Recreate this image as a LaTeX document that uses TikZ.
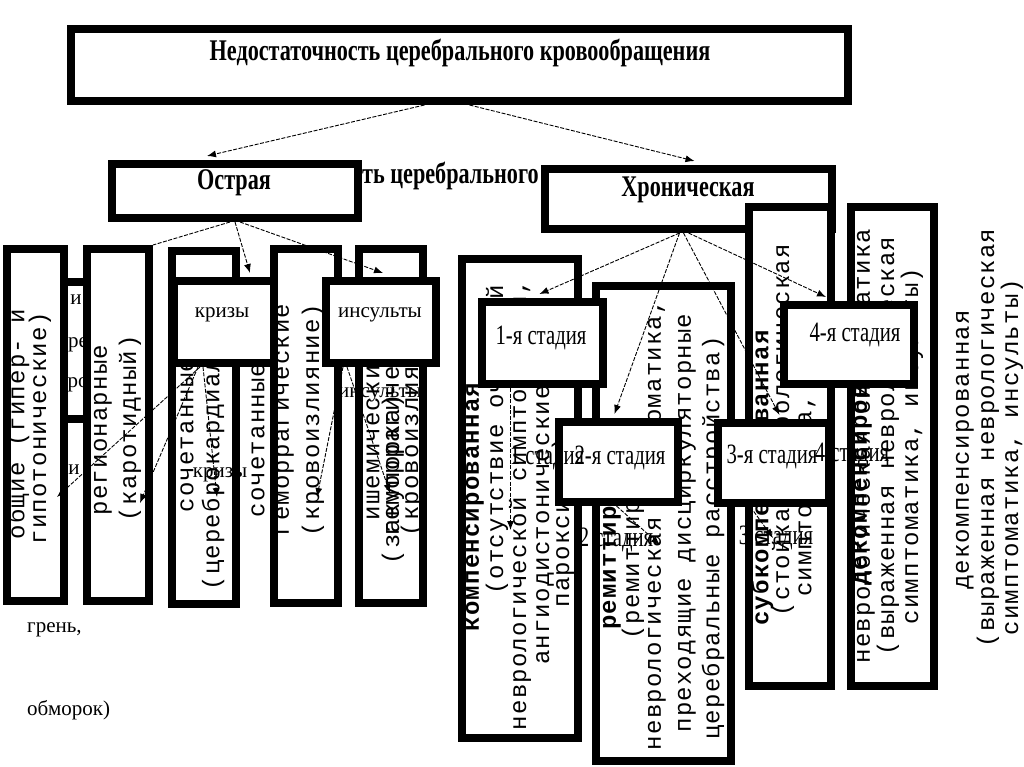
\documentclass[tikz,border=0pt]{standalone}
\usepackage{fontspec}
\setmainfont{Liberation Serif}
\newfontfamily\hfont[FakeStretch=0.74]{Liberation Serif}
\newfontfamily\vfont[LetterSpace=5]{Liberation Mono}
\usetikzlibrary{arrows.meta,calc}
\begin{document}
\begin{tikzpicture}[x=1pt,y=-1pt,
  box/.style={draw, line width=8pt, fill=white, inner sep=0pt},
  head/.style={font=\hfont\bfseries\fontsize{30}{32}\selectfont, inner sep=0pt},
  stage/.style={font=\hfont\fontsize{28}{30}\selectfont, inner sep=0pt},
  small/.style={font=\fontsize{21}{24}\selectfont, inner sep=0pt},
  vt/.style={rotate=90, font=\vfont\fontsize{24}{26}\selectfont, inner sep=0pt},
  vtb/.style={rotate=90, font=\vfont\bfseries\fontsize{24}{26}\selectfont, inner sep=0pt},
  conn/.style={line width=0.9pt, dash pattern=on 4pt off 1.5pt},
  arr/.style={conn, -{Latex[length=9pt,width=7pt]}},
]
\useasboundingbox (0,0) rectangle (1024,767);

% hidden box behind the left columns
\node[box, minimum width=62pt, minimum height=137pt] (hid) at (65,350.5) {};
\node[small] (h1) at (76,300) {и};
\node[small] (h2) at (78,345) {ре};
\node[small] (h3) at (78,385) {ро};
\node[small] (h4) at (74,470) {и};

% left columns
\node[box, minimum width=57pt, minimum height=352pt] (A) at (35.5,425) {};
\node[vt] (A1) at (18,424) {общие (гипер- и};
\node[vt] (A2) at (40,428) {гипотонические)};
\node[box, minimum width=62pt, minimum height=352pt] (B) at (118,425) {};
\node[vt] (B1) at (103,430) {регионарные};
\node[vt] (B2) at (130,428) {(каротидный)};
\node[box, minimum width=64pt, minimum height=353pt] (C) at (204,427.5) {};
\node[vt] (C1) at (187,435) {сочетанные};
\node[vt] (C2) at (213,435) {(цереброкардиальные)};
\node[vt] (CD) at (258,440) {сочетанные};
\node[box, minimum width=64pt, minimum height=354pt] (D) at (306,426) {};
\node[vt] (D1) at (285,420) {геморрагические};
\node[vt] (D2) at (313,420) {(кровоизлияние)};
\node[box, minimum width=64pt, minimum height=354pt] (E) at (391,426) {};
\node[vt] (E1) at (373,435) {ишемические};
\node[vt] (E2) at (393,479) {(закупорка)};
\node[vt] (E3) at (395,420) {геморрагические};
\node[vt] (E4) at (412,420) {(кровоизлияние)};
\node[box, minimum width=100pt, minimum height=82pt] (krizy) at (224,322) {};
\node[small] (krizyT) at (222,315) {кризы};
\node[box, minimum width=110pt, minimum height=82pt] (insult) at (381,322) {};
\node[small] (insultT) at (380,315) {инсульты};
\node[small] (kf) at (220,475) {кризы};
\node[small] (inf) at (380,395) {инсульты};
\node[small, anchor=west] (g1) at (27,630) {грень,};
\node[small, anchor=west] (g2) at (27,710) {обморок)};

% top
\node[box, minimum width=777pt, minimum height=72pt] (title) at (459.5,65) {};
\node[head] (titleT) at (460,53) {Недостаточность церебрального кровообращения};
\node[head, anchor=west] (frag) at (362,176) {ть церебрального к};
\node[box, minimum width=246pt, minimum height=54pt] (ostr) at (235,191) {};
\node[head] (ostrT) at (234,183) {Острая};
\node[box, minimum width=287pt, minimum height=60pt] (chron) at (688.5,199) {};
\node[head] (chronT) at (688,190) {Хроническая};

% right columns
\node[box, minimum width=116pt, minimum height=479pt] (K) at (520,498.5) {};
\node[vtb] (K1) at (475,507) {компенсированная};
\node[vt] (K2) at (497,440) {(отсутствие очаговой};
\node[vt] (K3) at (520,505) {неврологической симптоматики,};
\node[vt] (K4) at (545,525) {ангиодистонические};
\node[vt] (K5) at (563,522) {пароксизмы)};
\node[box, minimum width=135pt, minimum height=475pt] (R) at (663.5,523.5) {};
\node[vtb] (R1) at (612,529) {ремиттирующая};
\node[vt] (R2) at (633,531) {(ремиттирующая};
\node[vt] (R3) at (657,525) {неврологическая симптоматика,};
\node[vt] (R4) at (687,523) {преходящие дисциркуляторные};
\node[vt] (R5) at (713,538) {церебральные расстройства)};
\node[box, minimum width=82pt, minimum height=479pt] (S) at (790,446.5) {};
\node[vtb] (S1) at (762,478) {субкомпенсированная};
\node[vt] (S2) at (783,430) {(стойкая неврологическая};
\node[vt] (S3) at (807,496) {симптоматика,};
\node[box, minimum width=83pt, minimum height=479pt] (T) at (892.5,446.5) {};
\node[vtb] (T1) at (863,446) {декомпенсированная};
\node[vt] (T2) at (866,446) {неврологическая симптоматика};
\node[vt] (T3) at (888,446) {(выраженная неврологическая};
\node[vt] (T4) at (912,446) {симптоматика, инсульты)};

% stages
\node[box, minimum width=121pt, minimum height=82pt] (st1) at (542.5,343) {};
\node[stage] (st1T) at (541,338) {1-я стадия};
\node[box, minimum width=119pt, minimum height=80pt] (st2) at (618.5,462) {};
\node[stage] (st2T) at (620,458) {2-я стадия};
\node[box, minimum width=111pt, minimum height=80pt] (st3) at (773.5,463) {};
\node[stage] (st3T) at (772,457) {3-я стадия};
\node[box, minimum width=130pt, minimum height=79pt] (st4) at (849,344.5) {};
\node[stage] (st4T) at (855,335) {4-я стадия};
\node[stage] (sf1) at (547,458) {1 стадия};
\node[stage] (sf2) at (616,540) {2 стадия};
\node[stage] (sf3) at (776,538) {3 стадия};
\node[stage] (sf4) at (852,455) {4 стадия};

% outside text
\node[vt] (O1) at (965,450) {декомпенсированная};
\node[vt] (O2) at (988,438) {(выраженная неврологическая};
\node[vt] (O3) at (1012,457) {симптоматика, инсульты)};

% connector ends
\coordinate (pA) at (57,497);
\coordinate (pB) at (140,503);
\coordinate (pC) at (217,497);
\coordinate (pD) at (317,497);
\coordinate (pE) at (390,493);
\coordinate (p1) at (510.5,530);
\coordinate (p2) at (660,545);
\coordinate (p3) at (773,538);

% connectors
\draw[arr] ($(title.south)+(-35,0)$) -- ($(ostr.north)+(-28,-4)$);
\draw[arr] ($(title.south)+(10,0)$) -- ($(chron.north)+(6,-4)$);
\draw[arr] (ostr.south) -- ($(krizy.north)+(26,-4)$);
\draw[arr] ($(ostr.south)+(5,0)$) -- ($(insult.north)+(2,-4)$);
\draw[conn] ($(ostr.south)+(-5,0)$) -- (B.north east);
\draw[arr] ($(krizy.south)+(-24,0)$) -- (pA);
\draw[arr] ($(krizy.south)+(-26,0)$) -- (pB);
\draw[arr] ($(krizy.south)+(-21,0)$) -- (pC);
\draw[arr] ($(insult.south)+(-38,0)$) -- (pD);
\draw[arr] ($(insult.south)+(-34,0)$) -- (pE);
\draw[arr] ($(chron.south)+(-9,0)$) -- ($(st1.north)+(-3,-4)$);
\draw[arr] ($(chron.south)+(-9,0)$) -- ($(st2.north)+(-4,-4)$);
\draw[arr] ($(chron.south)+(-5,0)$) -- ($(st3.north)+(6,-4)$);
\draw[arr] (chron.south) -- ($(st4.north)+(-23,-4)$);
\draw[arr] ($(st1.south)+(-32,0)$) -- (p1);
\draw[arr] ($(st2.south)+(-2,0)$) -- (p2);
\draw[arr] ($(st3.south)+(-23,0)$) -- (p3);
\end{tikzpicture}
\end{document}
